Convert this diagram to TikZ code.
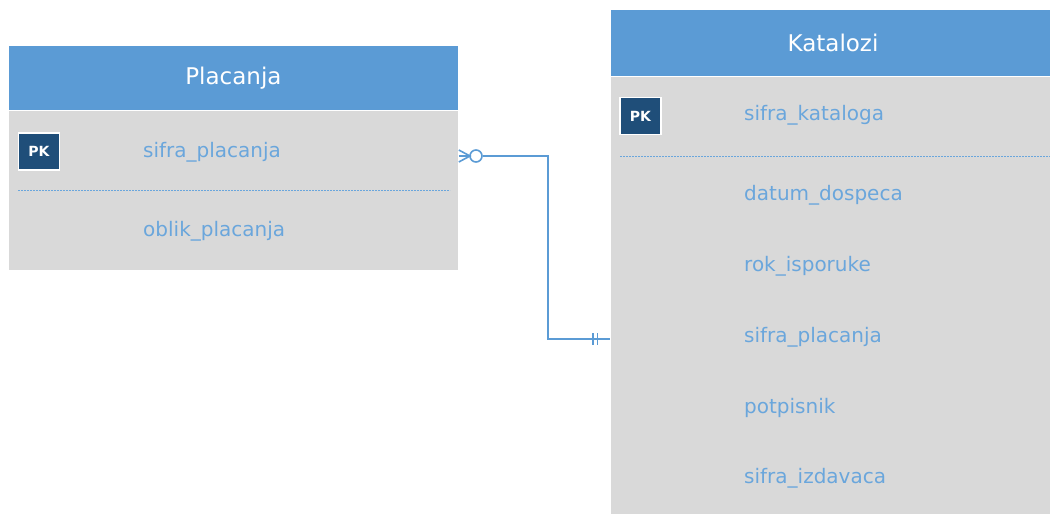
\documentclass[tikz,border=0pt]{standalone}
\usepackage{fontspec}
\setmainfont{DejaVu Sans}
\definecolor{hdr}{HTML}{5B9BD5}
\definecolor{bodyg}{HTML}{D9D9D9}
\definecolor{fld}{HTML}{6AA6DC}
\definecolor{pkc}{HTML}{1F4E79}
\definecolor{lnk}{HTML}{5B9BD5}
\begin{document}
\begin{tikzpicture}[x=1pt,y=-1pt,
  hdrbox/.style={fill=hdr,draw=white,line width=0.8pt,anchor=north west,inner sep=0pt,
    text=white,font=\fontsize{23}{26}\selectfont},
  bodybox/.style={fill=bodyg,draw=white,line width=0.8pt,anchor=north west,inner sep=0pt},
  pkbox/.style={fill=pkc,draw=white,line width=1.2pt,minimum width=41pt,minimum height=37pt,
    inner sep=0pt,text=white,font=\bfseries\fontsize{14}{16}\selectfont},
  field/.style={anchor=west,inner sep=0pt,text=fld,font=\fontsize{20}{22}\selectfont},
  sep/.style={draw=fld,dashed,dash pattern=on 2pt off 1pt,line width=0.8pt},
  conn/.style={draw=lnk,line width=1.6pt}]
\useasboundingbox (0,0) rectangle (1050,514);
\fill[white] (0,0) rectangle (1050,514);
% Placanja
\node[hdrbox,minimum width=450pt,minimum height=65pt] (ph) at (8,45) {Placanja};
\node[bodybox,minimum width=450pt,minimum height=160pt] (pb) at (8,110) {};
\node[pkbox] (ppk) at (39,151.5) {PK};
\node[field] (pf1) at (143,152) {sifra\_placanja};
\coordinate (psl) at (18,190);
\coordinate (psr) at (450,190);
\draw[sep] (psl) -- (psr);
\node[field] (pf2) at (143,231) {oblik\_placanja};
% Katalozi
\node[hdrbox,minimum width=445pt,minimum height=67pt] (kh) at (610,9) {};
\node[text=white,font=\fontsize{23}{26}\selectfont,inner sep=0pt] (kt) at (833,43) {Katalozi};
\node[bodybox,minimum width=445pt,minimum height=445pt] (kb) at (610,76) {};
\node[pkbox] (kpk) at (640.5,116) {PK};
\node[field] (kf1) at (744,115) {sifra\_kataloga};
\coordinate (ksl) at (620,156);
\coordinate (ksr) at (1050,156);
\draw[sep] (ksl) -- (ksr);
\node[field] (kf2) at (744,195) {datum\_dospeca};
\node[field] (kf3) at (744,266) {rok\_isporuke};
\node[field] (kf4) at (744,337) {sifra\_placanja};
\node[field] (kf5) at (744,408) {potpisnik};
\node[field] (kf6) at (744,478) {sifra\_izdavaca};
% connector
\coordinate (c1) at (ph.east |- 0,156);
\coordinate (c2) at (kb.west |- 0,339);
\coordinate (cf) at (470,156);
\coordinate (cc) at (476,156);
\node[circle,draw=lnk,line width=1.6pt,fill=white,minimum size=12pt,inner sep=0pt] (circ) at (cc) {};
\draw[conn] (circ.east) -- (548,156) -- (548,339) -- (c2);
\draw[conn] (c1 |- 0,150) -- (cf) -- (c1 |- 0,162);
\draw[conn] (c1) -- (circ.west);
\coordinate (b1t) at (593,333);
\coordinate (b1b) at (593,345);
\coordinate (b2t) at (597.5,333);
\coordinate (b2b) at (597.5,345);
\draw[conn] (b1t) -- (b1b);
\draw[conn] (b2t) -- (b2b);
\end{tikzpicture}
\end{document}
